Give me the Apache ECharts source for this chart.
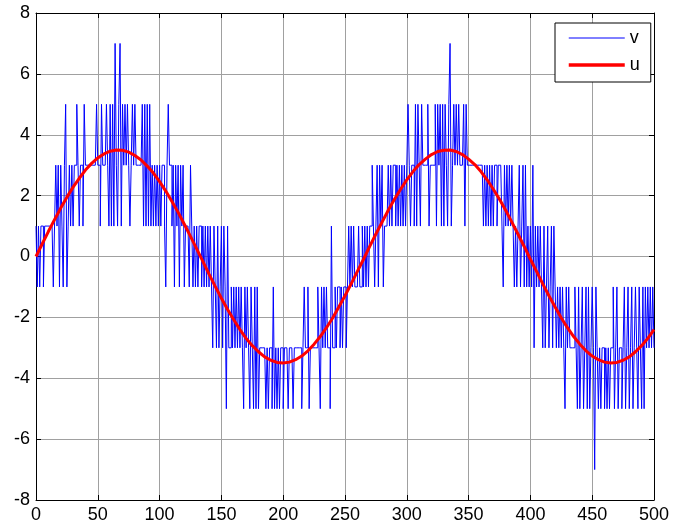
<!DOCTYPE html>
<html><head><meta charset="utf-8">
<script src="https://cdn.jsdelivr.net/npm/echarts@6/dist/echarts.min.js"></script>
<style>html,body{margin:0;padding:0;background:#fff}#c{width:677px;height:527px}</style>
</head><body><div id="c"></div>
<script>
// v: stepped quantized signal, one value per sample x = 0..500
const vValues = [
  1,-1,1,-1,1,1,-1,1,1,            // 0-8
  1,1,1,1,1,                       // 9-13
  -1,1,3,1,3,-1,3,1,-1,3,          // 14-23
  5,-1,1,3,1,3,1,3,3,5,            // 24-33
  3,1,3,3,1,5,3,3,3,3,             // 34-43
  3,3,3,3,3,5,3,3,1,5,             // 44-53
  3,3,3,5,3,1,5,1,5,1,             // 54-63
  7,3,1,5,7,1,5,3,5,3,             // 64-73
  5,3,1,3,5,3,5,3,3,3,             // 74-83
  3,3,5,1,5,1,5,1,5,1,             // 84-93
  3,1,3,1,3,1,3,1,3,3,1,           // 94-104
  -1,3,5,3,3,1,3,-1,3,1,           // 105-114
  3,-1,3,1,3,-1,1,1,1,-1,          // 115-124
  3,1,-1,1,-1,1,-1,1,1,-1,         // 125-134
  1,-1,1,-1,1,-1,1,-1,-3,1,        // 135-144
  -1,-3,1,-3,-1,1,-3,1,-1,-5,      // 145-154
  1,-3,-3,-1,-3,-1,-3,-1,-3,-1,    // 155-164
  -3,-1,-3,-5,-1,-3,-1,-3,-5,-1,   // 165-174
  -3,-5,-1,-5,-1,-5,-3,-3,-3,-3,   // 175-184
  -3,-5,-3,-5,-3,-3,-5,-1,-5,-3,   // 185-194
  -5,-3,-5,-3,-3,-5,-3,-3,-3,-5,   // 195-204
  -3,-3,-3,-5,-3,-3,-3,-3,-3,-3,   // 205-214
  -5,-3,-1,-3,-3,-1,-5,-3,-3,-3,   // 215-224
  -3,-3,-3,-1,-3,-5,-1,-3,-1,-3,   // 225-234
  -1,-3,-3,-5,1,-3,-3,-1,-3,-1,    // 235-244
  -1,-3,-1,-3,-1,-1,-3,-1,1,-1,    // 245-254
  1,-1,1,-1,-1,-1,1,-1,-1,1,       // 255-264
  -1,1,-1,1,-1,1,1,3,1,-1,         // 265-274
  1,3,-1,3,1,3,-1,1,1,1,           // 275-284
  3,1,3,1,3,3,1,3,1,3,             // 285-294
  1,3,1,3,1,3,5,3,1,3,             // 295-304
  3,1,5,1,5,3,1,5,3,3,             // 305-314
  3,3,5,1,3,3,3,3,5,1,             // 315-324
  5,3,5,1,5,1,5,3,1,5,             // 325-334
  7,1,3,5,3,5,3,5,3,3,             // 335-344
  3,5,1,5,3,3,3,3,3,3,             // 345-354
  3,3,3,3,3,3,3,1,3,1,             // 355-364
  3,1,3,1,3,1,3,3,1,3,             // 365-374
  3,3,1,-1,3,1,3,1,3,1,            // 375-384
  3,1,-1,1,-1,1,3,-1,1,3,          // 385-394
  -1,3,-1,1,-1,1,-1,3,-3,1,        // 395-404
  -1,1,-1,1,-1,-3,1,-3,-1,1,       // 405-414
  -3,-1,1,-3,1,-1,-3,-1,-3,-1,     // 415-424
  -3,-1,-3,-5,-1,-3,-1,-3,-3,-3,   // 425-434
  -3,-1,-3,-5,-1,-5,-3,-1,-5,-3,   // 435-444
  -1,-5,-1,-5,-3,-1,-3,-7,-1,-3,   // 445-454
  -5,-3,-5,-3,-3,-5,-3,-5,-3,-5,   // 455-464
  -3,-3,-1,-5,-3,-1,-5,-3,-3,-5,   // 465-474
  -3,-1,-5,-3,-1,-5,-3,-1,-5,-3,   // 475-484
  -1,-3,-5,-1,-3,-5,-1,-5,-1,-3,   // 485-494
  -1,-3,-1,-3,-1,-3                // 495-500
];
// u: smooth reference curve read every 5 samples (x = 0,5,...,500)
const uStep = 5;
const uValues = [
  0,0.41,0.82,1.21,1.59,1.95,2.28,2.57,2.84,3.06,
  3.24,3.37,3.46,3.50,3.49,3.43,3.32,3.17,2.97,2.74,
  2.46,2.15,1.81,1.45,1.06,0.66,0.25,-0.16,-0.58,-0.98,
  -1.37,-1.74,-2.08,-2.40,-2.69,-2.93,-3.13,-3.30,-3.41,-3.48,
  -3.50,-3.47,-3.39,-3.27,-3.10,-2.88,-2.63,-2.34,-2.02,-1.66,
  -1.29,-0.90,-0.49,-0.09,0.33,0.74,1.13,1.52,1.88,2.21,
  2.52,2.79,3.02,3.20,3.35,3.45,3.49,3.50,3.45,3.35,
  3.20,3.02,2.79,2.52,2.21,1.88,1.52,1.13,0.73,0.33,
  -0.09,-0.49,-0.90,-1.29,-1.66,-2.02,-2.34,-2.63,-2.88,-3.10,
  -3.27,-3.39,-3.47,-3.50,-3.48,-3.41,-3.30,-3.13,-2.93,-2.69,
  -2.40
];
const seriesNames = ['v', 'u'];

const vData = vValues.map((y, i) => [i, y]);
const uData = uValues.map((y, i) => [i * uStep, y]);

const FONT = 'Liberation Sans, Arial, sans-serif';
const baseAxis = {
  type: 'value',
  axisLine: { show: true, onZero: false, lineStyle: { color: '#000', width: 1 } },
  axisTick: { show: true, inside: true, length: 5, lineStyle: { color: '#000', width: 1 } },
  axisLabel: { show: true, color: '#000', fontSize: 18, fontFamily: FONT, margin: 6 },
  splitLine: { show: true, lineStyle: { color: '#a0a0a0', width: 1 } }
};
function ax(extra) { return Object.assign({}, JSON.parse(JSON.stringify(baseAxis)), extra); }

const chart = echarts.init(document.getElementById('c'), null, { renderer: 'canvas' });
chart.setOption({
  animation: false,
  backgroundColor: '#fff',
  grid: { left: 36, right: 23, top: 13, bottom: 27, containLabel: false },
  xAxis: [
    ax({ position: 'bottom', min: 0, max: 500, interval: 50 }),
    ax({ position: 'top', min: 0, max: 500, interval: 50,
         axisLabel: { show: false }, splitLine: { show: false } })
  ],
  yAxis: [
    ax({ position: 'left', min: -8, max: 8, interval: 2 }),
    ax({ position: 'right', min: -8, max: 8, interval: 2,
         axisLabel: { show: false }, splitLine: { show: false } })
  ],
  legend: {
    data: [
      { name: seriesNames[0], lineStyle: { width: 1 } },
      { name: seriesNames[1], lineStyle: { width: 3.5 } }
    ],
    orient: 'vertical',
    left: 555, top: 23,
    padding: [6, 11, 8, 12],
    itemWidth: 56, itemHeight: 14, itemGap: 9,
    borderColor: '#000', borderWidth: 1, backgroundColor: '#fff',
    itemStyle: { opacity: 0 },
    textStyle: { color: '#000', fontSize: 18, fontFamily: FONT }
  },
  series: [
    { name: seriesNames[0], type: 'line', data: vData, step: 'end',
      symbol: 'none', showSymbol: false,
      lineStyle: { color: '#0000ff', width: 1 }, itemStyle: { color: '#0000ff' }, z: 2 },
    { name: seriesNames[1], type: 'line', data: uData,
      symbol: 'none', showSymbol: false,
      lineStyle: { color: '#ff0000', width: 3 }, itemStyle: { color: '#ff0000' }, z: 3 }
  ]
});
</script>
</body></html>
